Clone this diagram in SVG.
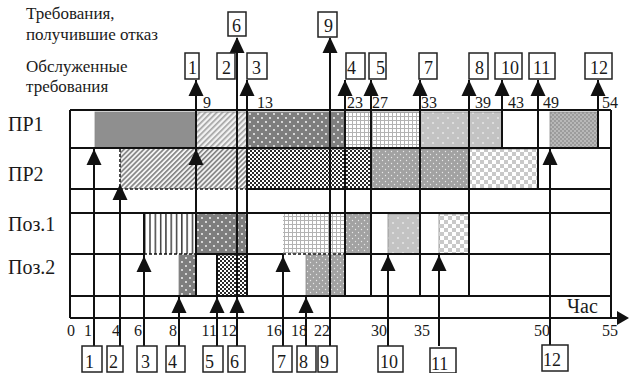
<svg xmlns="http://www.w3.org/2000/svg" xmlns:xlink="http://www.w3.org/1999/xlink" width="629" height="373" viewBox="0 0 629 373" font-family="'Liberation Serif', 'DejaVu Serif', serif">
<style>
.t{font-family:'Liberation Serif','DejaVu Serif','Times New Roman',serif;fill:#1a1a1a}
.hd{font-size:17px}
.row{font-size:20px}
.num{font-size:16px}
.bx{font-size:18px}
.box{fill:#fff;stroke:#222;stroke-width:1.5}
.ln{stroke:#111;stroke-width:2;fill:none}
.blk{stroke:#8a8a8a;stroke-width:0.8}
.dash{stroke:#111;stroke-width:1.5;stroke-dasharray:3 2;fill:none}
</style>
<defs>
<path id="up" d="M0,0 L7.5,16 L-7.5,16 Z" fill="#111"/>
<pattern id="pDotsDark" width="8" height="8" patternUnits="userSpaceOnUse"><rect width="8" height="8" fill="#7e7e7e"/><circle cx="2" cy="2" r="0.9" fill="#fff"/><circle cx="6" cy="6" r="0.9" fill="#fff"/></pattern>
<pattern id="pGrid" width="4" height="4" patternUnits="userSpaceOnUse"><rect width="4" height="4" fill="#fff"/><path d="M0,0.5H4M0.5,0V4" stroke="#b3b3b3" stroke-width="1"/></pattern>
<pattern id="pDotsLight" width="10" height="10" patternUnits="userSpaceOnUse"><rect width="10" height="10" fill="#c3c3c3"/><circle cx="3" cy="3" r="0.8" fill="#fff"/><circle cx="8" cy="8" r="0.8" fill="#fff"/></pattern>
<pattern id="pDotsMed" width="6" height="6" patternUnits="userSpaceOnUse"><rect width="6" height="6" fill="#a2a2a2"/><circle cx="1.5" cy="1.5" r="0.7" fill="#e8e8e8"/><circle cx="4.5" cy="4.5" r="0.7" fill="#e8e8e8"/></pattern>
<pattern id="pDotsH" width="4" height="4" patternUnits="userSpaceOnUse"><rect width="4" height="4" fill="#9c9c9c"/><rect x="0" y="0" width="2" height="2" fill="#b8b8b8"/><rect x="2" y="2" width="2" height="2" fill="#b8b8b8"/></pattern>
<pattern id="pCheckFine" width="4" height="4" patternUnits="userSpaceOnUse"><rect width="4" height="4" fill="#fff"/><rect width="2" height="2" fill="#2a2a2a"/><rect x="2" y="2" width="2" height="2" fill="#2a2a2a"/></pattern>
<pattern id="pCheckLight" width="8" height="8" patternUnits="userSpaceOnUse"><rect width="8" height="8" fill="#fff"/><rect width="4" height="4" fill="#c9c9c9"/><rect x="4" y="4" width="4" height="4" fill="#c9c9c9"/></pattern>
<pattern id="pHatchL" width="4" height="4" patternUnits="userSpaceOnUse" patternTransform="rotate(45)"><rect width="4" height="4" fill="#f2f2f2"/><rect width="1.6" height="4" fill="#a0a0a0"/></pattern>
<pattern id="pHatchD" width="3.5" height="4" patternUnits="userSpaceOnUse" patternTransform="rotate(45)"><rect width="3.5" height="4" fill="#f4f4f4"/><rect width="1.6" height="4" fill="#808080"/></pattern>
<pattern id="pV" width="5.3" height="4" patternUnits="userSpaceOnUse"><rect width="5.3" height="4" fill="#fff"/><rect x="1" width="1.3" height="4" fill="#222"/></pattern>
</defs>
<rect width="629" height="373" fill="#fff"/>

<g id="headers">
<text class="t hd" x="26" y="19">Требования,</text>
<text class="t hd" x="26" y="40">получившие отказ</text>
<text class="t hd" x="26" y="72">Обслуженные</text>
<text class="t hd" x="26" y="92">требования</text>
<text class="t row" x="8" y="131">ПР1</text>
<text class="t row" x="8" y="181">ПР2</text>
<text class="t row" x="8" y="231">Поз.1</text>
<text class="t row" x="8" y="274">Поз.2</text>
<text class="t row" x="567" y="313">Час</text>
</g>

<g id="blocks">
<rect class="blk" x="95" y="112" width="101" height="36" fill="#8f8f8f" stroke="#555"/>
<rect class="blk" x="196" y="112" width="51" height="36" fill="url(#pHatchL)"/>
<rect class="blk" x="247" y="112" width="98" height="36" fill="url(#pDotsDark)"/>
<rect class="blk" x="345" y="112" width="26" height="36" fill="url(#pGrid)"/>
<rect class="blk" x="371" y="112" width="49" height="36" fill="url(#pGrid)"/>
<rect class="blk" x="420" y="112" width="49" height="36" fill="url(#pDotsLight)"/>
<rect class="blk" x="469" y="112" width="33" height="36" fill="url(#pDotsLight)"/>
<rect class="blk" x="550" y="112" width="48" height="36" fill="url(#pDotsH)"/>
<rect x="120" y="149" width="127" height="40" fill="url(#pHatchD)"/>
<rect class="blk" x="247" y="149" width="124" height="40" fill="url(#pCheckFine)"/>
<rect class="blk" x="371" y="149" width="49" height="40" fill="url(#pDotsMed)"/>
<rect class="blk" x="420" y="149" width="49" height="40" fill="url(#pDotsMed)"/>
<rect class="blk" x="469" y="149" width="69" height="40" fill="url(#pCheckLight)"/>
<rect x="144" y="214" width="52" height="40" fill="url(#pV)"/>
<rect class="blk" x="196" y="214" width="51" height="40" fill="url(#pDotsDark)"/>
<rect x="283" y="214" width="62" height="40" fill="url(#pGrid)"/>
<rect class="blk" x="345" y="214" width="26" height="40" fill="url(#pDotsMed)"/>
<rect class="blk" x="388" y="214" width="32" height="40" fill="url(#pDotsLight)"/>
<rect class="blk" x="439" y="214" width="30" height="40" fill="url(#pCheckLight)" stroke="#333"/>
<rect class="blk" x="179" y="255" width="17" height="41" fill="url(#pDotsDark)"/>
<rect class="blk" x="217" y="255" width="30" height="41" fill="url(#pCheckFine)"/>
<rect class="blk" x="306" y="255" width="39" height="41" fill="url(#pDotsMed)"/>
</g>

<g id="grid">
<path class="ln" d="M70,110H611M70,148H611M70,189H120M247,189H611M70,213H611M70,254H144M196,254H283M345,254H611M70,296H611M70,110V318M611,110V318M70,318H618"/>
<path class="dash" d="M120,149V189H247M144,254H196M283,254H345"/>
<path d="M617,311 L629,318 L617,325 Z" fill="#111"/>
</g>

<g id="connectors">
<path class="ln" d="M94,148V346M120,189V346M144,213V346M179,296V346M196,80V296M217,254V346M237,38V346M247,80V296M283,254V346M306,296V346M330,38V346M345,80V296M371,80V296M388,254V346M420,80V296M439,254V346M469,80V296M502,80V148M538,80V189M550,148V346M598,80V148"/>
<use xlink:href="#up" x="94" y="149"/>
<use xlink:href="#up" x="120" y="184"/>
<use xlink:href="#up" x="196" y="149"/>
<use xlink:href="#up" x="144" y="256"/>
<use xlink:href="#up" x="283" y="256"/>
<use xlink:href="#up" x="388" y="255"/>
<use xlink:href="#up" x="439" y="255"/>
<use xlink:href="#up" x="179" y="297"/>
<use xlink:href="#up" x="217" y="297"/>
<use xlink:href="#up" x="237" y="297"/>
<use xlink:href="#up" x="306" y="297"/>
<use xlink:href="#up" x="550" y="149"/>
<use xlink:href="#up" x="196" y="80"/>
<use xlink:href="#up" x="247" y="80"/>
<use xlink:href="#up" x="345" y="80"/>
<use xlink:href="#up" x="371" y="80"/>
<use xlink:href="#up" x="420" y="80"/>
<use xlink:href="#up" x="469" y="80"/>
<use xlink:href="#up" x="502" y="80"/>
<use xlink:href="#up" x="538" y="80"/>
<use xlink:href="#up" x="598" y="80"/>
<use xlink:href="#up" x="237" y="37"/>
<use xlink:href="#up" x="330" y="37"/>
</g>

<g id="time-labels">
<text class="t num" x="203" y="108">9</text>
<text class="t num" x="257" y="108">13</text>
<text class="t num" x="347" y="108">23</text>
<text class="t num" x="372" y="108">27</text>
<text class="t num" x="421" y="108">33</text>
<text class="t num" x="475" y="108">39</text>
<text class="t num" x="508" y="108">43</text>
<text class="t num" x="543" y="108">49</text>
<text class="t num" x="602" y="108">54</text>
<g text-anchor="end">
<text class="t num" x="75" y="336">0</text>
<text class="t num" x="92" y="336">1</text>
<text class="t num" x="120" y="336">4</text>
<text class="t num" x="142" y="336">6</text>
<text class="t num" x="177" y="336">8</text>
<text class="t num" x="217" y="336">11</text>
<text class="t num" x="237" y="336">12</text>
<text class="t num" x="282" y="336">16</text>
<text class="t num" x="307" y="336">18</text>
<text class="t num" x="330" y="336">22</text>
<text class="t num" x="387" y="336">30</text>
<text class="t num" x="430" y="336">35</text>
<text class="t num" x="550" y="336">50</text>
<text class="t num" x="618" y="336">55</text>
</g>
</g>

<g id="top-boxes">
<g id="top-6"><rect class="box" x="228" y="12" width="18" height="24"/><text class="t bx" x="232" y="32">6</text></g>
<g id="top-9"><rect class="box" x="318" y="12" width="19" height="25"/><text class="t bx" x="324" y="32">9</text></g>
<g id="top-1"><rect class="box" x="185" y="53" width="14" height="26"/><text class="t bx" x="188" y="74">1</text></g>
<g id="top-2"><rect class="box" x="217" y="53" width="18" height="26"/><text class="t bx" x="222" y="74">2</text></g>
<g id="top-3"><rect class="box" x="247" y="53" width="20" height="26"/><text class="t bx" x="252" y="74">3</text></g>
<g id="top-4"><rect class="box" x="346" y="53" width="19" height="26"/><text class="t bx" x="347" y="74">4</text></g>
<g id="top-5"><rect class="box" x="369" y="53" width="17" height="26"/><text class="t bx" x="376" y="74">5</text></g>
<g id="top-7"><rect class="box" x="419" y="53" width="18" height="26"/><text class="t bx" x="424" y="74">7</text></g>
<g id="top-8"><rect class="box" x="469" y="53" width="19" height="26"/><text class="t bx" x="475" y="74">8</text></g>
<g id="top-10"><rect class="box" x="495" y="53" width="27" height="26"/><text class="t bx" x="501" y="74">10</text></g>
<g id="top-11"><rect class="box" x="529" y="53" width="26" height="26"/><text class="t bx" x="533" y="74">11</text></g>
<g id="top-12"><rect class="box" x="585" y="53" width="27" height="26"/><text class="t bx" x="590" y="74">12</text></g>
</g>

<g id="bottom-boxes">
<g id="bot-1"><rect class="box" x="82" y="346" width="20" height="26"/><text class="t bx" x="85" y="368">1</text></g>
<g id="bot-2"><rect class="box" x="107" y="346" width="16" height="26"/><text class="t bx" x="109" y="368">2</text></g>
<g id="bot-3"><rect class="box" x="137" y="346" width="20" height="26"/><text class="t bx" x="141" y="368">3</text></g>
<g id="bot-4"><rect class="box" x="166" y="346" width="19" height="26"/><text class="t bx" x="168" y="368">4</text></g>
<g id="bot-5"><rect class="box" x="203" y="346" width="20" height="26"/><text class="t bx" x="205" y="368">5</text></g>
<g id="bot-6"><rect class="box" x="228" y="346" width="17" height="26"/><text class="t bx" x="230" y="368">6</text></g>
<g id="bot-7"><rect class="box" x="273" y="346" width="19" height="26"/><text class="t bx" x="277" y="368">7</text></g>
<g id="bot-8"><rect class="box" x="297" y="346" width="19" height="26"/><text class="t bx" x="299" y="368">8</text></g>
<g id="bot-9"><rect class="box" x="318" y="346" width="19" height="26"/><text class="t bx" x="320" y="368">9</text></g>
<g id="bot-10"><rect class="box" x="378" y="346" width="25" height="26"/><text class="t bx" x="380" y="368">10</text></g>
<g id="bot-11"><rect class="box" x="430" y="348" width="26" height="25"/><text class="t bx" x="431" y="370">11</text></g>
<g id="bot-12"><rect class="box" x="542" y="345" width="26" height="26"/><text class="t bx" x="543" y="366">12</text></g>
</g>
</svg>
